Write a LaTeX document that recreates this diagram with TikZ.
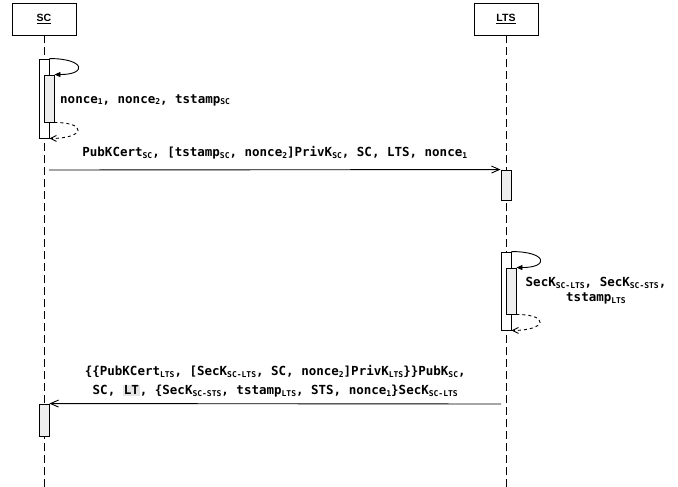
\documentclass[tikz,border=0pt]{standalone}
\usepackage{fontspec}
\setsansfont{Liberation Sans}
\setmonofont{DejaVu Sans Mono}
\usetikzlibrary{arrows.meta}
\definecolor{actgray}{HTML}{EEEEEE}
\newcommand{\sbs}[1]{\raisebox{-1.6pt}{\fontsize{8}{8}\selectfont #1}}
\newcommand{\hlbox}[1]{{\setlength{\fboxsep}{1pt}\colorbox{gray!20}{#1}}}

\begin{document}
\begin{tikzpicture}[x=1pt,y=-1pt,
  actor/.style={draw,line width=0.9pt,minimum width=64pt,minimum height=32pt,font=\sffamily\bfseries\fontsize{10.5}{12}\selectfont},
  lifeline/.style={line width=0.9pt,dash pattern=on 8pt off 4pt},
  act/.style={draw,line width=0.9pt,minimum width=10pt,inner sep=0pt},
  msgtext/.style={font=\ttfamily\bfseries\fontsize{12.5}{19}\selectfont,align=center,inner sep=0pt},
  msg/.style={line width=0.9pt,-{Straight Barb[length=8pt,width=7pt]}},
  selfcall/.style={line width=0.9pt,-{Triangle[length=6pt,width=5pt]}},
  selfret/.style={line width=0.9pt,dashed,-{Straight Barb[length=6pt,width=6pt]}}]
\useasboundingbox (0,0) rectangle (678,487);

% actors and lifelines
\node[actor] (sc) at (44,19) {\underline{SC}};
\node[actor] (lts) at (506,19) {\underline{LTS}};
\coordinate (scbot) at (44,487);
\coordinate (ltsbot) at (506,487);
\draw[lifeline] (sc.south) -- (scbot);
\draw[lifeline] (lts.south) -- (ltsbot);

% SC generates nonces
\node[act,fill=white,minimum height=79pt] (sc1) at (44,98.5) {};
\node[act,fill=actgray,minimum height=47pt] (sc2) at (49,98.5) {};
\draw[selfcall] (sc1.north east) .. controls +(36,0) and +(33,0) .. (sc2.north east);
\draw[selfret] (sc2.south east) .. controls +(33,0) and +(36,0) .. (sc1.south east);
\node[msgtext,anchor=west] (scgen) at (60,100) {nonce\sbs{1}, nonce\sbs{2}, tstamp\sbs{SC}};

% message SC -> LTS
\node[act,fill=actgray,minimum height=30pt] (lts1) at (506,185) {};
\coordinate (m1s) at (49,170);
\draw[msg] (m1s) -- (lts1.north west)
  node[msgtext,midway,above=10pt] (m1lbl) {PubKCert\sbs{SC}, [tstamp\sbs{SC}, nonce\sbs{2}]PrivK\sbs{SC}, SC, LTS, nonce\sbs{1}};

% LTS generates keys
\node[act,fill=white,minimum height=78pt] (lts2) at (506,291) {};
\node[act,fill=actgray,minimum height=46pt] (lts3) at (511,291) {};
\draw[selfcall] (lts2.north east) .. controls +(36,0) and +(33,0) .. (lts3.north east);
\draw[selfret] (lts3.south east) .. controls +(33,0) and +(36,0) .. (lts2.south east);
\node[msgtext] (ltsgen) at (596,291) {SecK\sbs{SC-LTS}, SecK\sbs{SC-STS},\\[-4pt]tstamp\sbs{LTS}};

% message LTS -> SC
\node[act,fill=actgray,minimum height=32pt] (sc3) at (44,420) {};
\coordinate (m2s) at (501,404);
\draw[msg] (m2s) -- (sc3.north east)
  node[msgtext,midway,above=6pt] (m2lbl) {\{\{PubKCert\sbs{LTS}, [SecK\sbs{SC-LTS}, SC, nonce\sbs{2}]PrivK\sbs{LTS}\}\}PubK\sbs{SC},\\
  SC, \hlbox{LT}, \{SecK\sbs{SC-STS}, tstamp\sbs{LTS}, STS, nonce\sbs{1}\}SecK\sbs{SC-LTS}};
\end{tikzpicture}
\end{document}
